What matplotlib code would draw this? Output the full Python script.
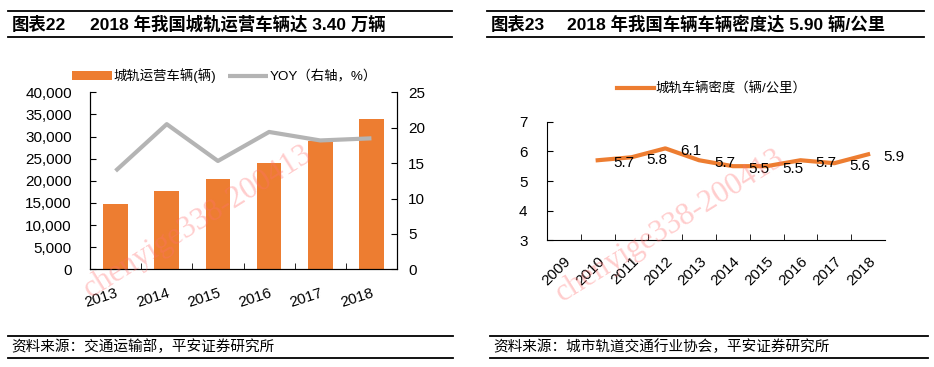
# -*- coding: utf-8 -*-
"""
Two report panels: urban rail vehicles with YOY, and vehicle density.
"""

import numpy as np
import matplotlib
matplotlib.use("Agg")
import matplotlib.pyplot as plt
from matplotlib.ticker import FuncFormatter

plt.rcParams["font.family"] = ["Liberation Sans", "Noto Sans CJK SC"]

# ---------- data ----------
years_left = ["2013", "2014", "2015", "2016", "2017", "2018"]
vehicles = [14800, 17800, 20300, 24100, 28900, 34000]
yoy = [13.9, 20.5, 15.3, 19.4, 18.2, 18.5]

years_right = ["2009", "2010", "2011", "2012", "2013",
               "2014", "2015", "2016", "2017", "2018"]
density_years = ["2010", "2011", "2012", "2013", "2014",
                 "2015", "2016", "2017", "2018"]
density = [5.7, 5.8, 6.1, 5.7, 5.5, 5.5, 5.7, 5.6, 5.9]

title_left = ("图表22", "2018 年我国城轨运营车辆达 3.40 万辆")
title_right = ("图表23", "2018 年我国车辆车辆密度达 5.90 辆/公里")
source_left = "资料来源：交通运输部，平安证券研究所"
source_right = "资料来源：城市轨道交通行业协会，平安证券研究所"

ORANGE = "#ED7D31"
GRAY = "#B4B4B4"

W, H = 934, 367
fig = plt.figure(figsize=(W / 100, H / 100), dpi=100)


def px_axes(x0, y0, x1, y1):
    # pixel box (top-left origin) -> figure fraction axes
    return fig.add_axes([x0 / W, 1 - y1 / H, (x1 - x0) / W, (y1 - y0) / H])


def hline(x0, x1, y):
    fig.add_artist(plt.Line2D([x0 / W, x1 / W], [1 - y / H, 1 - y / H],
                              color="black", lw=1.3))


# ---------- headers and footers ----------
for (num, txt), x0, x1, tx, tx2 in [(title_left, 8, 452, 12, 90),
                                    (title_right, 487, 924, 491, 567)]:
    hline(x0, x1, 10.5)
    hline(x0, x1, 37)
    fig.text(tx / W, 1 - 24 / H, num, fontsize=12.5, fontweight="bold",
             va="center", ha="left")
    fig.text(tx2 / W, 1 - 24 / H, txt, fontsize=12.5, fontweight="bold",
             va="center", ha="left")

for src, x0, x1 in [(source_left, 8, 453), (source_right, 490, 928)]:
    hline(x0, x1, 335.5)
    hline(x0, x1, 357.5)
    fig.text((x0 + 3) / W, 1 - 347 / H, src, fontsize=10.5, style="italic",
             va="center", ha="left")

# ---------- left chart ----------
ax = px_axes(90, 92.3, 397, 269.3)
xl = np.arange(len(years_left))
bars = ax.bar(xl, vehicles, width=0.48, color=ORANGE, zorder=2,
              label="城轨运营车辆(辆)")
ax.set_xlim(-0.5, len(years_left) - 0.5)
ax.set_ylim(0, 40000)
ax.set_yticks(np.arange(0, 40001, 5000))
ax.yaxis.set_major_formatter(FuncFormatter(lambda v, p: f"{int(v):,}"))
ax.set_xticks(xl)
ax.set_xticklabels(years_left, rotation=18, ha="right",
                   rotation_mode="anchor")
ax.set_xticks(np.arange(0.5, len(years_left) - 1), minor=True)
ax.tick_params(axis="x", which="major", length=0, pad=12, labelsize=11)
ax.tick_params(axis="x", which="minor", direction="in", length=4)
ax.tick_params(axis="y", direction="in", length=4, pad=13, labelsize=11)
ax.spines["top"].set_visible(False)

ax2 = ax.twinx()
line, = ax2.plot(xl, yoy, color=GRAY, lw=3, label="YOY（右轴，%）",
                 solid_capstyle="butt")
ax2.set_ylim(0, 25)
ax2.set_yticks(np.arange(0, 26, 5))
ax2.tick_params(axis="y", direction="in", length=4, pad=8, labelsize=11)
ax2.spines["top"].set_visible(False)

fig.legend([bars, line], ["城轨运营车辆(辆)", "YOY（右轴，%）"],
           loc="center left", bbox_to_anchor=(72 / W, 1 - 76 / H),
           ncol=2, frameon=False, fontsize=9.6, handlelength=3.0,
           handletextpad=0.1, columnspacing=0.9, borderpad=0,
           borderaxespad=0)

# ---------- right chart ----------
bx = px_axes(547, 121.7, 885, 240.3)
xr = np.arange(len(years_right))
xd = [years_right.index(y) for y in density_years]
dline, = bx.plot(xd, density, color=ORANGE, lw=3,
                 label="城轨车辆密度（辆/公里）")
for x, v in zip(xd, density):
    bx.annotate(f"{v:.1f}", (x, v), xytext=(11, -2),
                textcoords="offset points", ha="left", va="center",
                fontsize=11)
bx.set_xlim(-0.5, len(years_right) - 0.5)
bx.set_ylim(3, 7)
bx.set_yticks(np.arange(3, 8, 1))
bx.set_xticks(xr)
bx.set_xticklabels(years_right, rotation=45, ha="right",
                   rotation_mode="anchor")
bx.set_xticks(np.arange(0.5, len(years_right) - 1), minor=True)
bx.tick_params(axis="x", which="major", length=0, pad=10, labelsize=11)
bx.tick_params(axis="x", which="minor", direction="in", length=4)
bx.tick_params(axis="y", direction="in", length=4, pad=14, labelsize=11)
bx.spines["top"].set_visible(False)
bx.spines["right"].set_visible(False)

fig.legend([dline], ["城轨车辆密度（辆/公里）"],
           loc="center left", bbox_to_anchor=(617 / W, 1 - 89 / H),
           frameon=False, fontsize=9.6, handlelength=2.8,
           handletextpad=0.1, borderpad=0, borderaxespad=0)

# ---------- watermark ----------
for wx, wy in [(90, 298), (562, 302)]:
    fig.text(wx / W, 1 - wy / H, "chenyige338-200413", rotation=32,
             rotation_mode="anchor", ha="left", va="baseline",
             family="Liberation Serif", fontsize=22.5, color="#FF7070",
             alpha=0.35, zorder=10)

fig.savefig("out.png", dpi=100)
plt.close(fig)
